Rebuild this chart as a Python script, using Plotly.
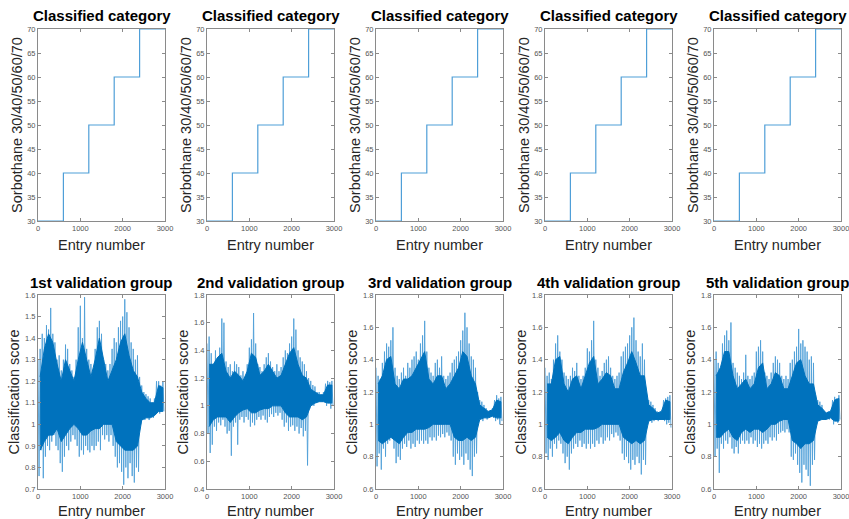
import plotly.graph_objects as go

# ---------------- data ----------------
step_entries = [0, 600, 1200, 1800, 2400, 3000]
step_category = [30, 40, 50, 60, 70, 70]

# spike extremes: highs at hi_entries, lows at lo_entries
hi_entries = list(range(0, 3000, 50))
lo_entries = list(range(25, 3000, 50))
# dense core band read at these entries
core_entries = list(range(50, 3000, 100))

g1_hi = [1.30, 1.35, 1.42, 1.40, 1.46, 1.44, 1.54, 1.42, 1.38, 1.30,
         1.32, 1.25, 1.30, 1.37, 1.35, 1.28, 1.25, 1.22, 1.30, 1.45,
         1.55, 1.40, 1.59, 1.35, 1.30, 1.28, 1.25, 1.35, 1.45, 1.48,
         1.42, 1.30, 1.28, 1.25, 1.28, 1.35, 1.40, 1.38, 1.45, 1.48,
         1.50, 1.58, 1.52, 1.45, 1.38, 1.35, 1.30, 1.32, 1.22, 1.18,
         1.15, 1.14, 1.13, 1.12, 1.10, 1.12, 1.20, 1.20, 1.18, 1.20]
g1_lo = [0.76, 0.88, 0.75, 0.85, 0.90, 0.88, 0.92, 0.95, 0.90, 0.88,
         0.82, 0.78, 0.85, 0.90, 0.88, 0.92, 0.95, 0.93, 0.90, 0.85,
         0.88, 0.86, 0.90, 0.88, 0.87, 0.90, 0.88, 0.90, 0.92, 0.88,
         0.95, 0.93, 0.95, 0.92, 0.95, 0.90, 0.85, 0.80, 0.82, 0.78,
         0.72, 0.80, 0.75, 0.82, 0.76, 0.73, 0.80, 0.78, 1.00, 1.02,
         1.02, 1.03, 1.02, 1.04, 1.03, 1.05, 1.06, 1.05, 1.07, 1.06]
g1_core_hi = [1.22, 1.35, 1.42, 1.38, 1.28, 1.20, 1.30, 1.25, 1.20, 1.30,
              1.38, 1.30, 1.22, 1.30, 1.40, 1.30, 1.20, 1.25, 1.30, 1.38,
              1.42, 1.32, 1.25, 1.22, 1.15, 1.12, 1.10, 1.10, 1.18, 1.17]
g1_core_lo = [0.88, 0.92, 0.95, 0.95, 0.98, 0.92, 0.95, 0.98, 1.00, 0.98,
              0.95, 0.95, 0.97, 0.98, 0.98, 1.00, 1.00, 1.00, 0.92, 0.90,
              0.88, 0.88, 0.88, 0.90, 1.02, 1.03, 1.03, 1.04, 1.06, 1.06]

g2_hi = [1.45, 1.50, 1.38, 1.30, 1.40, 1.35, 1.42, 1.63, 1.60, 1.32,
         1.28, 1.30, 1.25, 1.32, 1.30, 1.28, 1.22, 1.25, 1.20, 1.30,
         1.42, 1.48, 1.67, 1.45, 1.30, 1.28, 1.25, 1.30, 1.35, 1.38,
         1.32, 1.28, 1.25, 1.30, 1.25, 1.28, 1.35, 1.40, 1.38, 1.45,
         1.50, 1.63, 1.55, 1.40, 1.35, 1.32, 1.30, 1.25, 1.20, 1.18,
         1.15, 1.14, 1.10, 1.10, 1.08, 1.10, 1.16, 1.18, 1.17, 1.18]
g2_lo = [0.80, 0.66, 0.72, 0.85, 0.82, 0.88, 0.86, 0.90, 0.85, 0.80,
         0.82, 0.64, 0.85, 0.88, 0.72, 0.90, 0.92, 0.88, 0.92, 0.90,
         0.85, 0.88, 0.86, 0.90, 0.92, 0.90, 0.93, 0.90, 0.88, 0.92,
         0.94, 0.92, 0.95, 0.93, 0.95, 0.90, 0.85, 0.88, 0.82, 0.85,
         0.86, 0.82, 0.85, 0.80, 0.84, 0.78, 0.82, 0.57, 0.98, 1.00,
         1.00, 1.02, 1.03, 1.04, 1.03, 1.04, 1.00, 1.02, 0.98, 1.00]
g2_core_hi = [1.30, 1.30, 1.35, 1.38, 1.25, 1.20, 1.25, 1.22, 1.18, 1.25,
              1.38, 1.35, 1.22, 1.25, 1.30, 1.25, 1.20, 1.22, 1.30, 1.38,
              1.42, 1.30, 1.22, 1.20, 1.12, 1.10, 1.08, 1.08, 1.15, 1.15]
g2_core_lo = [0.85, 0.90, 0.92, 0.92, 0.92, 0.88, 0.92, 0.95, 0.97, 0.98,
              0.95, 0.95, 0.97, 0.98, 0.98, 1.00, 1.00, 1.00, 0.95, 0.92,
              0.92, 0.92, 0.90, 0.92, 1.00, 1.02, 1.03, 1.03, 1.02, 1.02]

g3_hi = [1.35, 1.30, 1.28, 1.38, 1.45, 1.50, 1.48, 1.52, 1.60, 1.35,
         1.30, 1.28, 1.32, 1.35, 1.30, 1.38, 1.35, 1.40, 1.42, 1.45,
         1.40, 1.50, 1.55, 1.64, 1.45, 1.35, 1.32, 1.30, 1.38, 1.40,
         1.35, 1.42, 1.30, 1.28, 1.30, 1.32, 1.38, 1.40, 1.42, 1.45,
         1.52, 1.58, 1.69, 1.60, 1.50, 1.42, 1.40, 1.35, 1.20, 1.15,
         1.14, 1.12, 1.10, 1.08, 1.08, 1.10, 1.15, 1.18, 1.16, 1.17]
g3_lo = [0.74, 0.82, 0.72, 0.85, 0.80, 0.88, 0.90, 0.92, 0.85, 0.76,
         0.80, 0.78, 0.85, 0.88, 0.86, 0.90, 0.85, 0.88, 0.86, 0.90,
         0.88, 0.90, 0.88, 0.90, 0.88, 0.92, 0.90, 0.92, 0.90, 0.93,
         0.92, 0.94, 0.92, 0.95, 0.93, 0.90, 0.80, 0.75, 0.82, 0.78,
         0.80, 0.75, 0.82, 0.78, 0.72, 0.68, 0.80, 0.82, 1.02, 1.03,
         1.02, 1.04, 1.03, 1.04, 1.05, 1.04, 1.02, 1.03, 1.00, 1.02]
g3_core_hi = [1.25, 1.30, 1.40, 1.42, 1.25, 1.22, 1.28, 1.28, 1.30, 1.35,
              1.40, 1.45, 1.28, 1.25, 1.30, 1.30, 1.22, 1.25, 1.30, 1.35,
              1.45, 1.42, 1.30, 1.25, 1.12, 1.10, 1.08, 1.09, 1.15, 1.14]
g3_core_lo = [0.90, 0.88, 0.90, 0.92, 0.90, 0.88, 0.92, 0.95, 0.95, 0.97,
              0.97, 0.97, 0.98, 1.00, 1.00, 1.00, 1.00, 1.00, 0.92, 0.90,
              0.90, 0.92, 0.90, 0.92, 1.03, 1.04, 1.04, 1.05, 1.04, 1.04]

g4_hi = [1.35, 1.30, 1.32, 1.28, 1.40, 1.50, 1.55, 1.45, 1.40, 1.32,
         1.30, 1.28, 1.30, 1.35, 1.33, 1.38, 1.30, 1.28, 1.30, 1.35,
         1.47, 1.45, 1.52, 1.64, 1.40, 1.35, 1.30, 1.33, 1.38, 1.40,
         1.42, 1.35, 1.30, 1.28, 1.30, 1.32, 1.42, 1.45, 1.48, 1.50,
         1.55, 1.60, 1.66, 1.52, 1.45, 1.42, 1.50, 1.40, 1.18, 1.15,
         1.14, 1.12, 1.10, 1.08, 1.07, 1.08, 1.15, 1.16, 1.17, 1.18]
g4_lo = [0.82, 0.78, 0.85, 0.80, 0.88, 0.85, 0.90, 0.88, 0.82, 0.76,
         0.80, 0.72, 0.82, 0.85, 0.88, 0.86, 0.90, 0.86, 0.88, 0.85,
         0.88, 0.85, 0.88, 0.86, 0.90, 0.88, 0.92, 0.88, 0.90, 0.92,
         0.90, 0.94, 0.92, 0.95, 0.93, 0.90, 0.82, 0.78, 0.80, 0.76,
         0.72, 0.78, 0.75, 0.80, 0.76, 0.69, 0.78, 0.75, 1.00, 1.02,
         1.01, 1.02, 1.03, 1.02, 1.03, 1.04, 1.02, 1.00, 1.01, 0.98]
g4_core_hi = [1.25, 1.25, 1.40, 1.42, 1.25, 1.20, 1.28, 1.30, 1.22, 1.30,
              1.38, 1.42, 1.25, 1.28, 1.32, 1.30, 1.22, 1.22, 1.32, 1.38,
              1.45, 1.38, 1.30, 1.30, 1.12, 1.10, 1.07, 1.08, 1.15, 1.14]
g4_core_lo = [0.92, 0.90, 0.92, 0.95, 0.90, 0.88, 0.92, 0.95, 0.95, 0.97,
              0.97, 0.97, 0.98, 1.00, 1.00, 1.00, 1.00, 1.00, 0.92, 0.90,
              0.88, 0.90, 0.88, 0.90, 1.02, 1.03, 1.03, 1.03, 1.03, 1.03]

g5_hi = [1.40, 1.45, 1.38, 1.35, 1.50, 1.55, 1.58, 1.52, 1.63, 1.38,
         1.35, 1.32, 1.30, 1.28, 1.32, 1.43, 1.30, 1.28, 1.30, 1.32,
         1.45, 1.48, 1.52, 1.45, 1.32, 1.30, 1.28, 1.32, 1.38, 1.42,
         1.40, 1.38, 1.30, 1.28, 1.30, 1.28, 1.38, 1.40, 1.45, 1.48,
         1.59, 1.50, 1.52, 1.48, 1.45, 1.40, 1.42, 1.38, 1.18, 1.15,
         1.14, 1.12, 1.08, 1.07, 1.08, 1.08, 1.15, 1.17, 1.16, 1.18]
g5_lo = [0.80, 0.85, 0.70, 0.88, 0.85, 0.90, 0.88, 0.92, 0.85, 0.82,
         0.86, 0.82, 0.88, 0.90, 0.88, 0.90, 0.88, 0.92, 0.88, 0.90,
         0.86, 0.88, 0.85, 0.88, 0.90, 0.88, 0.92, 0.90, 0.92, 0.90,
         0.94, 0.95, 0.96, 0.95, 0.97, 0.95, 0.80, 0.78, 0.82, 0.75,
         0.70, 0.64, 0.75, 0.72, 0.68, 0.62, 0.75, 0.78, 1.00, 1.02,
         1.03, 1.04, 1.03, 1.04, 1.03, 1.04, 1.00, 1.02, 1.01, 1.03]
g5_core_hi = [1.30, 1.35, 1.45, 1.45, 1.30, 1.22, 1.25, 1.28, 1.22, 1.25,
              1.35, 1.38, 1.22, 1.25, 1.32, 1.30, 1.22, 1.22, 1.30, 1.38,
              1.40, 1.30, 1.25, 1.25, 1.12, 1.10, 1.07, 1.08, 1.15, 1.16]
g5_core_lo = [0.92, 0.92, 0.95, 0.97, 0.92, 0.90, 0.95, 0.97, 0.95, 0.97,
              0.97, 0.95, 0.97, 1.00, 1.00, 1.02, 1.03, 1.03, 0.90, 0.88,
              0.85, 0.88, 0.88, 0.90, 1.02, 1.03, 1.03, 1.04, 1.02, 1.02]

group_titles = ["1st validation group", "2nd validation group", "3rd validation group",
                "4th validation group", "5th validation group"]
group_hi = [g1_hi, g2_hi, g3_hi, g4_hi, g5_hi]
group_lo = [g1_lo, g2_lo, g3_lo, g4_lo, g5_lo]
group_core_hi = [g1_core_hi, g2_core_hi, g3_core_hi, g4_core_hi, g5_core_hi]
group_core_lo = [g1_core_lo, g2_core_lo, g3_core_lo, g4_core_lo, g5_core_lo]
group_yrange = [[0.7, 1.6], [0.4, 1.8], [0.6, 1.8], [0.6, 1.8], [0.6, 1.8]]
group_dtick = [0.1, 0.2, 0.2, 0.2, 0.2]

top_title = "Classified category"
top_ylabel = "Sorbothane 30/40/50/60/70"
bottom_ylabel = "Classification score"
xlabel = "Entry number"

# ---------------- figure ----------------
W, H = 849, 519
fig = go.Figure()

LINE_BLUE = "#0072BD"
FONT = "Liberation Sans, Arial, Helvetica, sans-serif"


def px_x(p):
    return p / W


def px_y(p):
    return 1 - p / H


top_y = (px_y(221), px_y(29))
bot_y = (px_y(489), px_y(295))

axis_common = dict(
    showgrid=False, zeroline=False, showline=True, linecolor="#8a8a8a", linewidth=1,
    mirror="ticks", ticks="inside", ticklen=3, tickcolor="#8a8a8a",
    tickfont=dict(size=7.5, color="#555555", family=FONT),
    title_font=dict(size=14.5, color="#262626", family=FONT),
    automargin=False, ticklabeloverflow="allow",
)

annotations = []
for i in range(5):
    left = 38 + 169 * i
    right = 165 + 169 * i
    xd = (px_x(left), px_x(right))
    n_top = 2 * i + 1
    n_bot = 2 * i + 2
    xa_t = "x" if n_top == 1 else f"x{n_top}"
    ya_t = "y" if n_top == 1 else f"y{n_top}"
    xa_b = f"x{n_bot}"
    ya_b = f"y{n_bot}"

    # top: step chart
    fig.add_trace(go.Scatter(
        x=step_entries, y=step_category, mode="lines", line_shape="hv",
        line=dict(color="#4f9fd8", width=1.2), xaxis=xa_t, yaxis=ya_t,
        showlegend=False, hoverinfo="skip"))

    # bottom: spikes (thin lighter strokes)
    xs, ys = [], []
    for k in range(len(hi_entries)):
        xs += [hi_entries[k], lo_entries[k]]
        ys += [group_hi[i][k], group_lo[i][k]]
    fig.add_trace(go.Scatter(
        x=xs, y=ys, mode="lines",
        line=dict(color="#4f9fd8", width=0.9), xaxis=xa_b, yaxis=ya_b,
        showlegend=False, hoverinfo="skip"))

    # bottom: dense core band
    cx = core_entries + core_entries[::-1]
    cy = group_core_hi[i] + group_core_lo[i][::-1]
    fig.add_trace(go.Scatter(
        x=cx, y=cy, mode="lines", fill="toself", fillcolor=LINE_BLUE,
        line=dict(color=LINE_BLUE, width=1), xaxis=xa_b, yaxis=ya_b,
        showlegend=False, hoverinfo="skip"))

    lay_xt = "xaxis" if n_top == 1 else f"xaxis{n_top}"
    lay_yt = "yaxis" if n_top == 1 else f"yaxis{n_top}"
    fig.layout[lay_xt] = dict(
        axis_common, domain=xd, anchor=ya_t, range=[0, 3000], tickvals=[0, 1000, 2000, 3000],
        title=dict(text=xlabel, standoff=7))
    fig.layout[lay_yt] = dict(
        axis_common, domain=top_y, anchor=xa_t, range=[30, 70], dtick=5,
        title=dict(text=top_ylabel, standoff=1))
    fig.layout[f"xaxis{n_bot}"] = dict(
        axis_common, domain=xd, anchor=ya_b, range=[0, 3000], tickvals=[0, 1000, 2000, 3000],
        title=dict(text=xlabel, standoff=5))
    fig.layout[f"yaxis{n_bot}"] = dict(
        axis_common, domain=bot_y, anchor=xa_b, range=group_yrange[i], dtick=group_dtick[i],
        title=dict(text=bottom_ylabel, standoff=1))

    mid = px_x((left + right) / 2)
    annotations.append(dict(
        text=f"<b>{top_title}</b>", x=mid, y=px_y(16), xref="paper", yref="paper",
        showarrow=False, font=dict(size=15, color="#000000", family=FONT),
        xanchor="center", yanchor="middle"))
    annotations.append(dict(
        text=f"<b>{group_titles[i]}</b>", x=mid, y=px_y(282), xref="paper", yref="paper",
        showarrow=False, font=dict(size=15, color="#000000", family=FONT),
        xanchor="center", yanchor="middle"))

fig.update_layout(
    width=W, height=H, margin=dict(l=0, r=0, t=0, b=0),
    paper_bgcolor="white", plot_bgcolor="white",
    annotations=annotations, showlegend=False,
)

# remove the default page margin so the 849x519 figure fills the window exactly
fig.write_html(
    "out.html",
    config={"displayModeBar": False},
    post_script="document.body.style.margin='0';document.body.style.overflow='hidden';",
)
